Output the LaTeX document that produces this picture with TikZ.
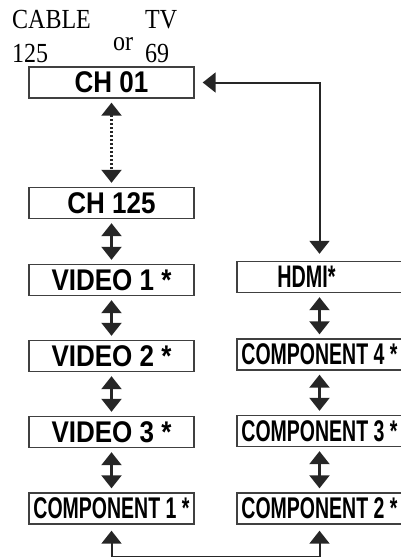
\documentclass[tikz,border=0pt]{standalone}
\usepackage{fontspec}
\setmainfont{Liberation Serif}
\setsansfont{Liberation Sans}
\usepackage{graphicx}
\usetikzlibrary{arrows.meta}
\newcommand{\vstretch}[1]{\scalebox{1}[1.15]{#1}}
\newcommand{\compstretch}[1]{\scalebox{0.75}[1.15]{#1}}
\begin{document}
\begin{tikzpicture}[x=1pt,y=-1pt,
  box/.style={draw=black!75, line width=1.4pt, minimum width=165pt, minimum height=31pt, inner sep=0pt,
    font=\sffamily\bfseries\fontsize{26}{26}\selectfont},
  tipA/.tip={Triangle[width=20pt,length=13pt]},
  conn/.style={line width=2.2pt, draw=black!85, tipA-tipA, shorten <=4pt, shorten >=4pt},
  lab/.style={anchor=base west, inner sep=0pt, font=\fontsize{24}{24}\selectfont}]
\useasboundingbox (0,0) rectangle (401,557);

% top labels
\node[lab] (cable) at (12,28) {\vstretch{CABLE}};
\node[lab] (tv) at (145,28) {\vstretch{TV}};
\node[lab] (n125) at (12,62) {\vstretch{125}};
\node[lab] (or) at (113,50) {\vstretch{or}};
\node[lab] (n69) at (145,62) {\vstretch{69}};

% left column
\node[box] (ch01) at (111.5,82.5) {\vstretch{CH 01}};
\node[box] (ch125) at (111.5,203) {\vstretch{CH 125}};
\node[box] (v1) at (111.5,280) {\vstretch{VIDEO 1 *}};
\node[box] (v2) at (111.5,356) {\vstretch{VIDEO 2 *}};
\node[box] (v3) at (111.5,432) {\vstretch{VIDEO 3 *}};
\node[box] (c1) at (111.5,508.5) {\compstretch{COMPONENT 1 *}};

% right column
\node[box] (hdmi) at (319.5,277) {\hspace*{-26pt}\scalebox{0.76}[1.2]{HDMI*}};
\node[box] (c4) at (319.5,354.5) {\compstretch{COMPONENT 4 *}};
\node[box] (c3) at (319.5,431) {\compstretch{COMPONENT 3 *}};
\node[box] (c2) at (319.5,508.5) {\compstretch{COMPONENT 2 *}};

% connectors
\draw[conn, dash pattern=on 2pt off 2pt] (ch01.south) -- (ch125.north);
\draw[conn] (ch125.south) -- (v1.north);
\draw[conn] (v1.south) -- (v2.north);
\draw[conn] (v2.south) -- (v3.north);
\draw[conn] (v3.south) -- (c1.north);
\draw[conn] (hdmi.south) -- (c4.north);
\draw[conn] (c4.south) -- (c3.north);
\draw[conn] (c3.south) -- (c2.north);
\draw[conn, line width=2pt, shorten <=8pt, shorten >=7pt] (ch01.east) -| (hdmi.north);
\draw[conn, line width=2pt, shorten <=6pt, shorten >=6pt] (c1.south) -- ++(0,32) -| (c2.south);
\end{tikzpicture}
\end{document}
